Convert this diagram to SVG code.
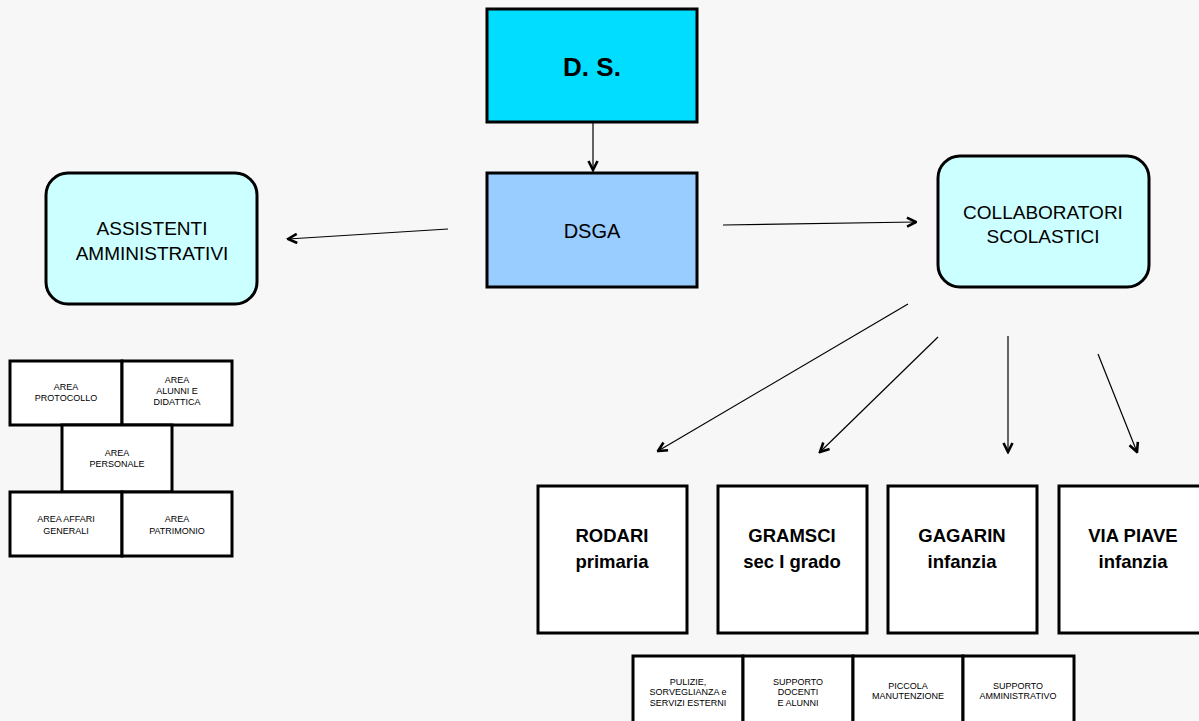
<svg xmlns="http://www.w3.org/2000/svg" width="1199" height="721" viewBox="0 0 1199 721">
<defs>
<style>
.box{stroke:#000;stroke-width:3}
.t{font-family:"Liberation Sans",Arial,sans-serif;fill:#000;text-anchor:middle}
.big{font-size:19px}
.sch{font-size:18.5px;font-weight:bold}
.sm{font-size:9px}
.ln{fill:none;stroke:#000;stroke-width:1.2}
</style>
<marker id="ah" viewBox="0 0 12 12" refX="10.5" refY="6" markerWidth="12" markerHeight="12" markerUnits="userSpaceOnUse" orient="auto">
<path d="M1.5,1.5 L10.5,6 L1.5,10.5" fill="none" stroke="#000" stroke-width="2.6"/>
</marker>
</defs>
<rect width="1199" height="721" fill="#f7f7f7"/>

<g id="ds">
<rect class="box" x="487" y="9" width="210" height="113" fill="#00ddff"/>
<text class="t" x="592" y="76" font-size="26" font-weight="bold">D. S.</text>
</g>
<g id="dsga">
<rect class="box" x="487" y="173" width="210" height="114" fill="#99ccff"/>
<text class="t" x="592" y="238" font-size="20">DSGA</text>
</g>
<g id="assistenti">
<rect class="box" x="46" y="173" width="211" height="131" rx="22" fill="#ccffff"/>
<text class="t big" x="152" y="235">ASSISTENTI</text>
<text class="t big" x="152" y="260">AMMINISTRATIVI</text>
</g>
<g id="collaboratori">
<rect class="box" x="938" y="156" width="211" height="131" rx="22" fill="#ccffff"/>
<text class="t big" x="1043" y="219">COLLABORATORI</text>
<text class="t big" x="1043" y="243">SCOLASTICI</text>
</g>

<g id="aree">
<rect class="box" x="10" y="361" width="112" height="64" fill="#fff"/>
<rect class="box" x="122" y="361" width="110" height="64" fill="#fff"/>
<rect class="box" x="62" y="425" width="110" height="67" fill="#fff"/>
<rect class="box" x="10" y="492" width="112" height="64" fill="#fff"/>
<rect class="box" x="122" y="492" width="110" height="64" fill="#fff"/>
<text class="t sm" x="66" y="390">AREA</text>
<text class="t sm" x="66" y="401">PROTOCOLLO</text>
<text class="t sm" x="177" y="383">AREA</text>
<text class="t sm" x="177" y="394">ALUNNI E</text>
<text class="t sm" x="177" y="405">DIDATTICA</text>
<text class="t sm" x="117" y="456">AREA</text>
<text class="t sm" x="117" y="467">PERSONALE</text>
<text class="t sm" x="66" y="522">AREA AFFARI</text>
<text class="t sm" x="66" y="534">GENERALI</text>
<text class="t sm" x="177" y="522">AREA</text>
<text class="t sm" x="177" y="534">PATRIMONIO</text>
</g>

<g id="rodari">
<rect class="box" x="538" y="486" width="149" height="147" fill="#fff"/>
<text class="t sch" x="612" y="542">RODARI</text>
<text class="t sch" x="612" y="568">primaria</text>
</g>
<g id="gramsci">
<rect class="box" x="718" y="486" width="149" height="147" fill="#fff"/>
<text class="t sch" x="792" y="542">GRAMSCI</text>
<text class="t sch" x="792" y="568">sec I grado</text>
</g>
<g id="gagarin">
<rect class="box" x="888" y="486" width="149" height="147" fill="#fff"/>
<text class="t sch" x="962" y="542">GAGARIN</text>
<text class="t sch" x="962" y="568">infanzia</text>
</g>
<g id="viapiave">
<rect class="box" x="1059" y="486" width="149" height="147" fill="#fff"/>
<text class="t sch" x="1133" y="542">VIA PIAVE</text>
<text class="t sch" x="1133" y="568">infanzia</text>
</g>

<g id="mansioni">
<rect class="box" x="633" y="656" width="110" height="75" fill="#fff"/>
<rect class="box" x="743" y="656" width="110" height="75" fill="#fff"/>
<rect class="box" x="853" y="656" width="110" height="75" fill="#fff"/>
<rect class="box" x="963" y="656" width="111" height="75" fill="#fff"/>
<text class="t sm" x="688" y="685">PULIZIE,</text>
<text class="t sm" x="688" y="695">SORVEGLIANZA e</text>
<text class="t sm" x="688" y="706">SERVIZI ESTERNI</text>
<text class="t sm" x="798" y="685">SUPPORTO</text>
<text class="t sm" x="798" y="695">DOCENTI</text>
<text class="t sm" x="798" y="706">E ALUNNI</text>
<text class="t sm" x="908" y="689">PICCOLA</text>
<text class="t sm" x="908" y="699">MANUTENZIONE</text>
<text class="t sm" x="1018" y="689">SUPPORTO</text>
<text class="t sm" x="1018" y="699">AMMINISTRATIVO</text>
</g>

<g id="connectors">
<line class="ln" x1="593" y1="123" x2="593" y2="170" marker-end="url(#ah)"/>
<line class="ln" x1="448" y1="229" x2="288" y2="239" marker-end="url(#ah)"/>
<line class="ln" x1="723" y1="225" x2="916" y2="222" marker-end="url(#ah)"/>
<line class="ln" x1="908" y1="304" x2="658" y2="451" marker-end="url(#ah)"/>
<line class="ln" x1="938" y1="337" x2="820" y2="452" marker-end="url(#ah)"/>
<line class="ln" x1="1008" y1="336" x2="1008" y2="452" marker-end="url(#ah)"/>
<line class="ln" x1="1098" y1="354" x2="1137" y2="452" marker-end="url(#ah)"/>
</g>
</svg>
